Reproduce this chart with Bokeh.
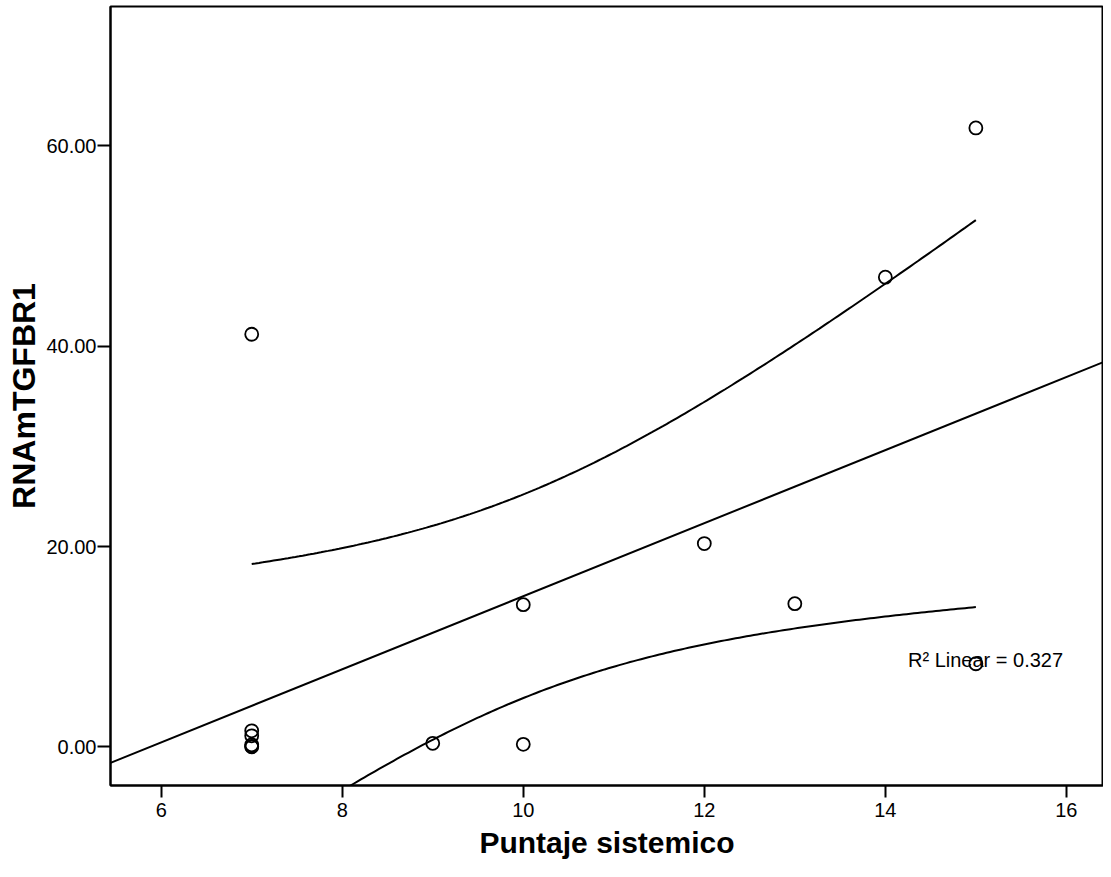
import numpy as np
from bokeh.plotting import figure
from bokeh.models import FixedTicker, PrintfTickFormatter, Label, Range1d
from bokeh.embed import file_html
from bokeh.resources import INLINE

# ---- data ----
puntaje = [7, 7, 7, 7, 7, 7, 9, 10, 10, 12, 13, 14, 15, 15]
rnam_tgfbr1 = [41.2, 1.6, 1.1, 0.2, 0.05, 0.0, 0.35, 14.2, 0.25, 20.3, 14.3, 46.9, 61.8, 8.3]
x_ticks = [6, 8, 10, 12, 14, 16]
y_ticks = [0, 20, 40, 60]
r2_text = "R\u00b2 Linear = 0.327"
T_CRIT = 2.179  # t(0.975, df = n - 2 = 12)

FONT = "Liberation Sans"
X_RANGE = (5.44, 16.41)
Y_RANGE = (-3.86, 73.93)

x = np.array(puntaje, dtype=float)
y = np.array(rnam_tgfbr1, dtype=float)
n = len(x)
xm, ym = x.mean(), y.mean()
sxx = ((x - xm) ** 2).sum()
sxy = ((x - xm) * (y - ym)).sum()
slope = sxy / sxx
intercept = ym - slope * xm
resid = y - (intercept + slope * x)
s = np.sqrt((resid ** 2).sum() / (n - 2))

p = figure(width=1103, height=861, output_backend="svg", toolbar_location=None,
           x_range=Range1d(*X_RANGE), y_range=Range1d(*Y_RANGE),
           min_border_left=110, min_border_right=0, min_border_top=6,
           min_border_bottom=75)
p.background_fill_color = "white"
p.border_fill_color = "white"
p.outline_line_color = "black"
p.outline_line_width = 2
p.xgrid.visible = False
p.ygrid.visible = False

# fit line across the whole x range
xl = np.array(X_RANGE)
p.line(xl, intercept + slope * xl, line_color="black", line_width=2)

# 95% mean confidence bands over the data range
xb = np.linspace(x.min(), x.max(), 200)
yb = intercept + slope * xb
hw = T_CRIT * s * np.sqrt(1.0 / n + (xb - xm) ** 2 / sxx)
p.line(xb, yb + hw, line_color="black", line_width=2)
p.line(xb, yb - hw, line_color="black", line_width=2)

p.scatter(puntaje, rnam_tgfbr1, size=13, fill_color=None, line_color="black",
          line_width=1.8, marker="circle")

p.add_layout(Label(x=14.25, y=8.7, text=r2_text, text_font=FONT,
                   text_font_size="20px", text_baseline="middle",
                   text_align="left", text_color="black"))

for ax in (p.xaxis[0], p.yaxis[0]):
    ax.axis_line_color = "black"
    ax.axis_line_width = 2
    ax.major_tick_line_color = "black"
    ax.major_tick_line_width = 2
    ax.major_tick_in = 0
    ax.minor_tick_line_color = None
    ax.major_label_text_font = FONT
    ax.major_label_text_color = "black"
    ax.major_label_text_font_size = "20px"
    ax.axis_label_text_font = FONT
    ax.axis_label_text_font_style = "bold"
    ax.axis_label_text_color = "black"

p.xaxis.ticker = FixedTicker(ticks=x_ticks)
p.xaxis.major_tick_out = 12
p.xaxis.major_label_standoff = 5
p.xaxis.axis_label = "Puntaje sistemico"
p.xaxis.axis_label_text_font_size = "30px"
p.xaxis.axis_label_standoff = 6

p.yaxis.ticker = FixedTicker(ticks=y_ticks)
p.yaxis.formatter = PrintfTickFormatter(format="%.2f")
p.yaxis.major_tick_out = 13
p.yaxis.major_label_standoff = 1
p.yaxis.axis_label = "RNAmTGFBR1"
p.yaxis.axis_label_text_font_size = "32px"
p.yaxis.axis_label_standoff = 1

open("out.html", "w").write(file_html(p, INLINE))
